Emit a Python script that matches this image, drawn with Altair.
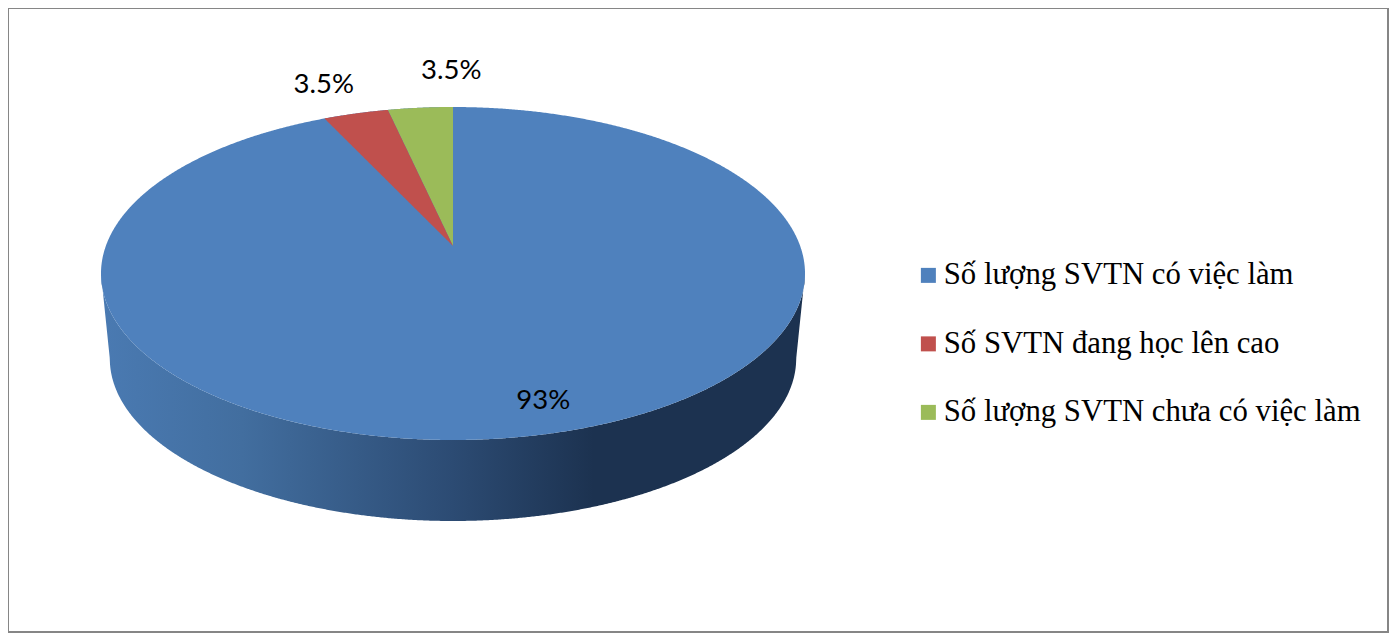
import numpy as np
import pandas as pd
import altair as alt

# --- values
categories = ["Số lượng SVTN có việc làm", "Số SVTN đang học lên cao", "Số lượng SVTN chưa có việc làm"]
percents = [93.0, 3.5, 3.5]
labels = ["93%", "3.5%", "3.5%"]
colors = ["#4f81bd", "#c0504d", "#9bbb59"]

# --- tilted-pie projection (screen geometry, in picture pixels)
W, H = 1380, 624
CX, APEX_Y = 453.0, 246.0
K, A, B = 0.165, 162.0, 347.0
TOP_Y, BOT_Y, RX = 107.0, 440.0, 352.0
YC, RY = (TOP_Y + BOT_Y) / 2, (BOT_Y - TOP_Y) / 2
SIDE_SCALE, SIDE_BOTTOM = 0.975, 521.0


def rim(pct):
    """Point of the rim reached after pct percent, clockwise from 12 o'clock."""
    t = np.radians(pct * 3.6)
    w = 1 + K * np.cos(t)
    return CX + B * np.sin(t) / w, APEX_Y - A * np.cos(t) / w


def upper(x):
    return YC - RY * np.sqrt(np.clip(1 - ((x - CX) / RX) ** 2, 0, 1))


def lower(x):
    return YC + RY * np.sqrt(np.clip(1 - ((x - CX) / RX) ** 2, 0, 1))


def edge(x, p):
    return APEX_Y + (p[1] - APEX_Y) * (x - CX) / (p[0] - CX)


# top disc
xs = CX + RX * np.cos(np.linspace(np.pi, 0, 721))
disc = pd.DataFrame({"x": xs, "y": upper(xs), "y2": lower(xs), "cat": categories[0]})

# the two small slices: they run counter-clockwise from 12 o'clock
p_green = rim(100 - percents[2])
p_red = rim(100 - percents[2] - percents[1])
rows = []
for x in np.linspace(p_green[0], CX, 60):
    rows.append((x, upper(x), edge(x, p_green) if x < CX - 1e-6 else APEX_Y, categories[2]))
for x in np.linspace(p_red[0], p_green[0], 60):
    rows.append((x, upper(x), edge(x, p_red), categories[1]))
for x in np.linspace(p_green[0], CX, 60)[1:]:
    rows.append((x, edge(x, p_green) if x < CX - 1e-6 else APEX_Y,
                 edge(x, p_red), categories[1]))
slices = pd.DataFrame(rows, columns=["x", "y", "y2", "cat"])

# side wall
rx2, ry2 = RX * SIDE_SCALE, RY * SIDE_SCALE
yc2 = SIDE_BOTTOM - ry2
xside = CX + RX * np.cos(np.linspace(np.pi, 0, 721))
ybot = []
for x in xside:
    d = abs(x - CX)
    if d <= rx2:
        ybot.append(yc2 + ry2 * np.sqrt(1 - (d / rx2) ** 2))
    else:
        ybot.append(YC + (yc2 - YC) * (RX - d) / (RX - rx2))
side = pd.DataFrame({"x": xside, "y": lower(xside), "y2": ybot})

# data labels: slice anchor plus a small offset
mid_big = rim(percents[0] / 2)
mid_red = rim(percents[0] + percents[1] / 2)
mid_green = rim(percents[0] + percents[1] + percents[2] / 2)
text_df = pd.DataFrame({
    "x": [mid_big[0], mid_red[0] - 32, mid_green[0] + 31],
    "y": [mid_big[1] - 33, mid_red[1] - 28, mid_green[1] - 37],
    "label": labels,
})

x_enc = alt.X("x:Q", scale=alt.Scale(domain=[8, 8 + W], nice=False, zero=False), axis=None)
y_enc = alt.Y("y:Q", scale=alt.Scale(domain=[8 + H, 8], nice=False, zero=False), axis=None)
color_scale = alt.Scale(domain=categories, range=colors)

side_layer = alt.Chart(side).mark_area(
    color=alt.Gradient(
        gradient="linear", x1=0, x2=1, y1=0, y2=0,
        stops=[
            alt.GradientStop(color="#4a7ab2", offset=0),
            alt.GradientStop(color="#426e9f", offset=0.2),
            alt.GradientStop(color="#2c4b73", offset=0.5),
            alt.GradientStop(color="#1c3250", offset=0.7),
            alt.GradientStop(color="#1c3250", offset=1),
        ],
    )
).encode(x=x_enc, y=y_enc, y2="y2:Q")

legend = alt.Legend(
    title=None, orient="none", legendX=905, legendY=252,
    symbolType="square", symbolSize=225, symbolStrokeWidth=0, symbolOpacity=1,
    labelFont="Liberation Serif", labelFontSize=30.75, labelColor="#000000",
    labelLimit=600, labelOffset=0, rowPadding=36.5, padding=0,
)
disc_layer = alt.Chart(disc).mark_area(opacity=1).encode(
    x=x_enc, y=y_enc, y2="y2:Q",
    color=alt.Color("cat:N", scale=color_scale, legend=legend),
)
slice_layer = alt.Chart(slices).mark_area(opacity=1).encode(
    x=x_enc, y=y_enc, y2="y2:Q",
    color=alt.Color("cat:N", scale=color_scale, legend=legend),
)
text_layer = alt.Chart(text_df).mark_text(
    font="Lato", fontSize=27.5, color="#000000", align="center", baseline="middle"
).encode(x=x_enc, y=y_enc, text="label:N")

chart = alt.layer(side_layer, disc_layer, slice_layer, text_layer).properties(
    width=W, height=H, padding={"left": 0, "top": 0, "right": 1, "bottom": 1},
    background="#ffffff",
).configure_view(stroke="#868686", strokeWidth=2)

chart.save("out.html", embed_options={"renderer": "svg", "actions": False})
